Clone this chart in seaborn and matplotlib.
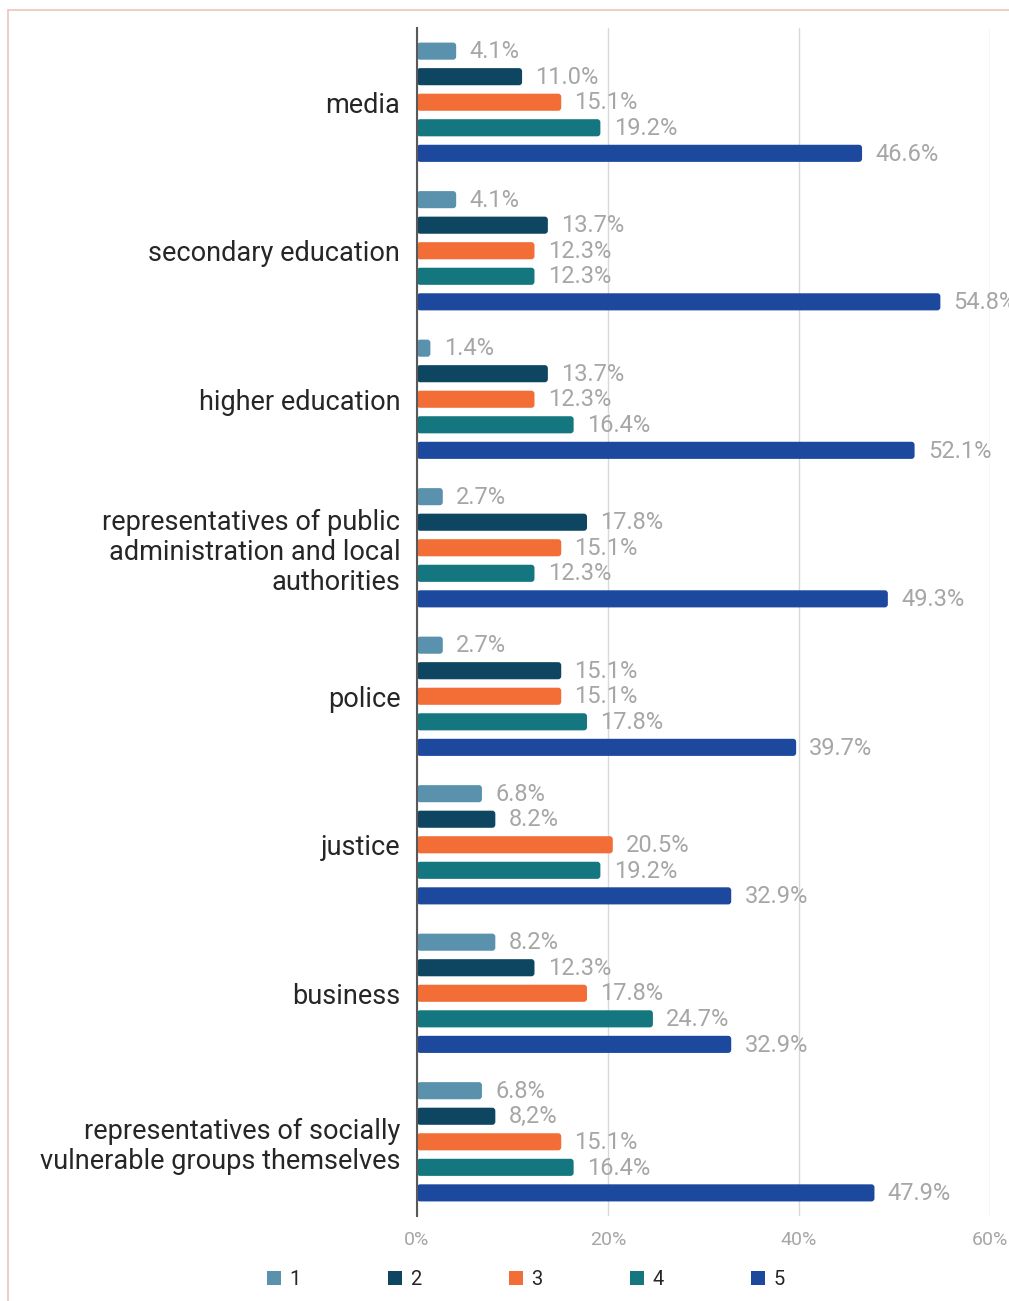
import matplotlib
matplotlib.use("Agg")
import matplotlib.pyplot as plt
import numpy as np
import pandas as pd
import seaborn as sns
from matplotlib.patches import FancyBboxPatch, Patch
from matplotlib.lines import Line2D

# ---- data -------------------------------------------------------------
categories = [
    "media",
    "secondary education",
    "higher education",
    "representatives of public\nadministration and local\nauthorities",
    "police",
    "justice",
    "business",
    "representatives of socially\nvulnerable groups themselves",
]
ratings = ["1", "2", "3", "4", "5"]
share_1 = [4.1, 4.1, 1.4, 2.7, 2.7, 6.8, 8.2, 6.8]
share_2 = [11.0, 13.7, 13.7, 17.8, 15.1, 8.2, 12.3, 8.2]
share_3 = [15.1, 12.3, 12.3, 15.1, 15.1, 20.5, 17.8, 15.1]
share_4 = [19.2, 12.3, 16.4, 12.3, 17.8, 19.2, 24.7, 16.4]
share_5 = [46.6, 54.8, 52.1, 49.3, 39.7, 32.9, 32.9, 47.9]
# one label in the source table uses a decimal comma
comma_labels = {(1, 7)}  # (rating index, category index)
x_ticks = [0, 20, 40, 60]
x_tick_labels = ["0%", "20%", "40%", "60%"]

palette = ["#5a92ae", "#0e4560", "#f26e36", "#147780", "#1c489e"]

series = [share_1, share_2, share_3, share_4, share_5]
df = pd.DataFrame({
    "category": np.tile(categories, len(ratings)),
    "rating": np.repeat(ratings, len(categories)),
    "share": np.concatenate(series),
})

# ---- style ------------------------------------------------------------
sns.set_style("white")
plt.rcParams["font.family"] = ["Roboto", "DejaVu Sans"]

fig = plt.figure(figsize=(10.09, 13.01), dpi=100)
ax = fig.add_axes([0.4133, 0.0653, 0.5679, 0.9132])

sns.barplot(data=df, y="category", x="share", hue="rating", orient="h",
            order=categories, hue_order=ratings, palette=palette,
            width=0.86, gap=0.33, saturation=1, legend=False, ax=ax)

ax.set_xlim(0, 60)
ax.set_ylim(len(categories) - 0.5, -0.5)

# rounded bar ends, built from the bars seaborn drew
x_r = 0.32
y_r = 0.021
for ci, container in enumerate(ax.containers):
    for bi, rect in enumerate(container):
        x, y = rect.get_x(), rect.get_y()
        w, h = rect.get_width(), rect.get_height()
        fc = rect.get_facecolor()
        rect.set_visible(False)
        box = FancyBboxPatch((x, y), w, h,
                             boxstyle=f"round,pad=0,rounding_size={x_r}",
                             mutation_aspect=y_r / x_r,
                             facecolor=fc, edgecolor="none", zorder=2)
        ax.add_patch(box)
        val = series[ci][bi]
        text = f"{val:.1f}%"
        if (ci, bi) in comma_labels:
            text = text.replace(".", ",")
        ax.annotate(text, (w, y + h / 2), xytext=(9.5, -0.5),
                    textcoords="offset points", va="center", ha="left",
                    fontsize=17, color="#a6a6a6", zorder=4,
                    annotation_clip=False)

# axes decoration
ax.set_xticks(x_ticks)
ax.set_xticklabels(x_tick_labels)
ax.xaxis.grid(True, color="#d9d9d9", linewidth=1)
ax.set_axisbelow(True)
for side in ["top", "right", "bottom"]:
    ax.spines[side].set_visible(False)
ax.spines["left"].set_color("#595959")
ax.spines["left"].set_linewidth(1.5)
ax.spines["left"].set_zorder(5)
ax.tick_params(axis="x", length=0, pad=11, labelsize=14, labelcolor="#a6a6a6")
ax.tick_params(axis="y", length=0, pad=12, labelsize=19.5, labelcolor="#262626")
for lbl in ax.get_yticklabels():
    lbl.set_linespacing(1.15)
ax.set_xlabel("")
ax.set_ylabel("")

# legend
handles = [Patch(facecolor=c, edgecolor="none", label=r) for c, r in zip(palette, ratings)]
fig.legend(handles=handles, loc="center", bbox_to_anchor=(0.521, 0.0165),
           ncol=5, frameon=False, fontsize=14.5, handlelength=0.7,
           handleheight=0.7, handletextpad=0.4, columnspacing=4.35,
           labelcolor="#262626")

# thin outer frame
frame_c = "#ecc5bd"
fig.add_artist(Line2D([8 / 1009, 1.0], [1 - 9.5 / 1301] * 2,
                      transform=fig.transFigure, color=frame_c, lw=1.2))
fig.add_artist(Line2D([8 / 1009] * 2, [0.0, 1 - 9.5 / 1301],
                      transform=fig.transFigure, color=frame_c, lw=1.2))

fig.savefig("out.png", dpi=100)
